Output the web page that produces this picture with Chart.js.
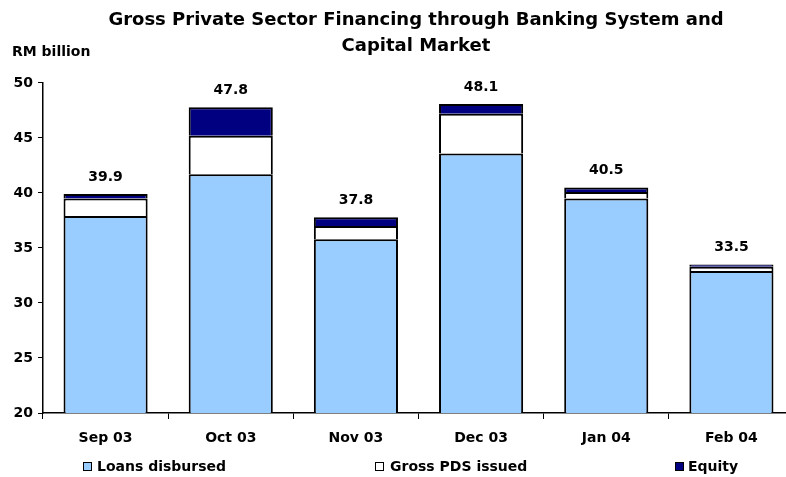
<!DOCTYPE html>
<html>
<head>
<meta charset="utf-8">
<script src="https://cdn.jsdelivr.net/npm/chart.js@4.4.1/dist/chart.umd.min.js"></script>
<style>
  html, body { margin: 0; padding: 0; background: #fff; overflow: hidden; width: 786px; height: 477px; }
  #wrap { position: absolute; left: 0; top: 0; width: 832px; height: 477px; }
  .txt { position: absolute; font-family: "DejaVu Sans", Verdana, sans-serif; font-weight: bold; font-size: 14px; color: #000; white-space: nowrap; line-height: 17px; }
  .box { position: absolute; width: 7px; height: 7px; border: 1px solid #000; }
</style>
</head>
<body>
<div id="wrap"><canvas id="c"></canvas></div>
<div class="txt" style="left:12px; top:43px;">RM billion</div>
<div class="box" style="left:83px; top:462px; background:#99CCFF;"></div>
<div class="txt" style="left:97px; top:458px;">Loans disbursed</div>
<div class="box" style="left:375px; top:462px; background:#FFFFFF;"></div>
<div class="txt" style="left:390px; top:458px;">Gross PDS issued</div>
<div class="box" style="left:675px; top:462px; background:#000080;"></div>
<div class="txt" style="left:688px; top:458px;">Equity</div>
<script>
const categories = ["Sep 03", "Oct 03", "Nov 03", "Dec 03", "Jan 04", "Feb 04"];
const loansDisbursed = [37.9, 41.7, 35.8, 43.6, 39.5, 32.9];
const grossPDS = [1.6, 3.5, 1.2, 3.6, 0.6, 0.4];
const equity = [0.4, 2.6, 0.8, 0.9, 0.4, 0.2];
const titleLines = ["Gross Private Sector Financing through Banking System and", "Capital Market"];
const FONT = '"DejaVu Sans", Verdana, sans-serif';

const totalsPlugin = {
  id: 'totals',
  afterLayout(chart) {
    // centre the title over the plot area
    if (chart.titleBlock) {
      chart.titleBlock.left = chart.chartArea.left - 5;
      chart.titleBlock.right = chart.chartArea.right;
    }
  },
  afterDatasetsDraw(chart) {
    const ctx = chart.ctx;
    const last = chart.getDatasetMeta(chart.data.datasets.length - 1);
    ctx.save();
    ctx.font = 'bold 14px ' + FONT;
    ctx.fillStyle = '#000';
    ctx.textAlign = 'center';
    ctx.textBaseline = 'bottom';
    categories.forEach((c, i) => {
      const total = loansDisbursed[i] + grossPDS[i] + equity[i];
      const el = last.data[i];
      ctx.fillText(total.toFixed(1), el.x, el.y - 10);
    });
    ctx.restore();
  }
};

new Chart(document.getElementById('c'), {
  type: 'bar',
  data: {
    labels: categories,
    datasets: [
      { label: 'Loans disbursed', data: loansDisbursed, backgroundColor: '#99CCFF', borderColor: '#000', borderWidth: 2, borderSkipped: 'bottom' },
      { label: 'Gross PDS issued', data: grossPDS, backgroundColor: '#FFFFFF', borderColor: '#000', borderWidth: 2, borderSkipped: 'bottom' },
      { label: 'Equity', data: equity, backgroundColor: '#000080', borderColor: '#000', borderWidth: 2, borderSkipped: 'bottom' }
    ]
  },
  options: {
    responsive: true,
    maintainAspectRatio: false,
    animation: false,
    layout: { padding: { left: 0, right: 38, top: 0, bottom: 20 } },
    datasets: { bar: { categoryPercentage: 1.0, barPercentage: 0.672 } },
    plugins: {
      legend: { display: false },
      tooltip: { enabled: false },
      title: {
        display: true,
        text: titleLines,
        color: '#000',
        font: { family: FONT, size: 18, weight: 'bold', lineHeight: 1.444 },
        padding: { top: 7, bottom: 24 }
      }
    },
    scales: {
      x: {
        stacked: true,
        grid: { display: true, drawOnChartArea: false, offset: true, color: '#000', tickLength: 6, tickWidth: 1 },
        border: { display: true, color: '#000', width: 1.5 },
        ticks: { color: '#000', font: { family: FONT, size: 14, weight: 'bold', lineHeight: 1.2 }, padding: 10.6 }
      },
      y: {
        stacked: true,
        min: 20, max: 50,
        afterFit(scale) { scale.width = 43; },
        grid: { display: true, drawOnChartArea: false, color: '#000', tickLength: 5, tickWidth: 1 },
        border: { display: true, color: '#000', width: 1.5 },
        ticks: { stepSize: 5, color: '#000', font: { family: FONT, size: 14, weight: 'bold' }, padding: 5 }
      }
    }
  },
  plugins: [totalsPlugin]
});
</script>
</body>
</html>
